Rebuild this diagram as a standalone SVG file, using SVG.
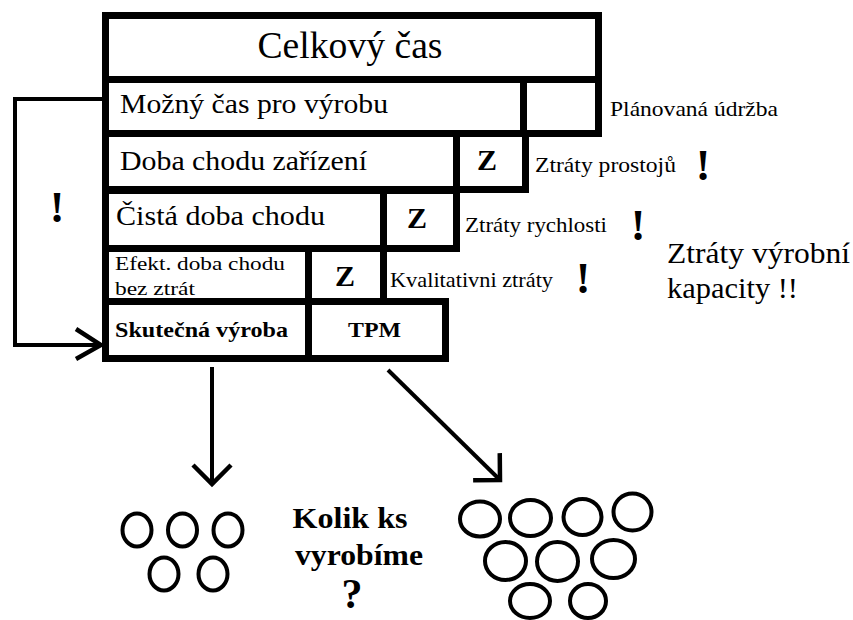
<svg xmlns="http://www.w3.org/2000/svg" width="853" height="620" viewBox="0 0 853 620">
  <style>
    .cell { fill: #fff; stroke: #000; stroke-width: 7; }
    .wire { fill: none; stroke: #000; stroke-width: 4; }
    .piece { fill: none; stroke: #000; stroke-width: 4; }
    text { font-family: "Liberation Serif", "Times New Roman", Times, Tinos, "Noto Serif", "DejaVu Serif", FreeSerif, serif; fill: #000; }
    .b { font-weight: bold; }
    .row { font-size: 27px; }
    .side { font-size: 22px; }
    .z { font-size: 30px; font-weight: bold; }
    .bang { font-size: 44px; font-weight: bold; }
  </style>
  <defs>
    <marker id="chev" viewBox="-24 -24 28 48" markerWidth="28" markerHeight="48" refX="0" refY="0" orient="auto" markerUnits="userSpaceOnUse">
      <path d="M -19 -19 L 0 0 L -19 19" fill="none" stroke="#000" stroke-width="4.5"/>
    </marker>
    <marker id="chevNarrow" viewBox="-28 -20 32 40" markerWidth="32" markerHeight="40" refX="0" refY="0" orient="auto" markerUnits="userSpaceOnUse">
      <path d="M -25 -16 L 0 0 L -25 14" fill="none" stroke="#000" stroke-width="4.5"/>
    </marker>
  </defs>

  <rect width="853" height="620" fill="#fff"/>

  <!-- connectors -->
  <g id="connectors">
    <polyline class="wire" points="102,99 15,99 15,345 101,345" marker-end="url(#chevNarrow)"/>
    <line class="wire" x1="212" y1="367" x2="212" y2="484" marker-end="url(#chev)"/>
    <line class="wire" x1="388" y1="370" x2="500" y2="480" marker-end="url(#chev)"/>
  </g>

  <!-- stacked time breakdown -->
  <g id="celkovy">
    <rect class="cell" x="105.5" y="15.5" width="493" height="64"/>
    <text x="350" y="58" font-size="38" text-anchor="middle" textLength="185" lengthAdjust="spacingAndGlyphs">Celkový čas</text>
  </g>
  <g id="mozny">
    <rect class="cell" x="105.5" y="79.5" width="419" height="54"/>
    <text class="row" x="120" y="113" textLength="268" lengthAdjust="spacingAndGlyphs">Možný čas pro výrobu</text>
  </g>
  <g id="udrzba-box">
    <rect class="cell" x="523.5" y="79.5" width="75" height="54"/>
  </g>
  <g id="doba">
    <rect class="cell" x="105.5" y="133.5" width="351" height="56"/>
    <text class="row" x="120" y="170" textLength="247" lengthAdjust="spacingAndGlyphs">Doba chodu zařízení</text>
  </g>
  <g id="z-prostoje">
    <rect class="cell" x="456.5" y="133.5" width="69" height="56"/>
    <text class="z" x="487" y="170" text-anchor="middle">Z</text>
  </g>
  <g id="cista">
    <rect class="cell" x="105.5" y="190.5" width="278" height="58"/>
    <text class="row" x="116" y="225" textLength="209" lengthAdjust="spacingAndGlyphs">Čistá doba chodu</text>
  </g>
  <g id="z-rychlost">
    <rect class="cell" x="383.5" y="190.5" width="73" height="58"/>
    <text class="z" x="417" y="228" text-anchor="middle">Z</text>
  </g>
  <g id="efekt">
    <rect class="cell" x="105.5" y="248.5" width="204" height="54"/>
    <text x="115" y="270" font-size="19" textLength="170" lengthAdjust="spacingAndGlyphs">Efekt.  doba chodu</text>
    <text x="115" y="295" font-size="19" textLength="80" lengthAdjust="spacingAndGlyphs">bez ztrát</text>
  </g>
  <g id="z-kvalita">
    <rect class="cell" x="308.5" y="248.5" width="75" height="54"/>
    <text class="z" x="345" y="286" text-anchor="middle">Z</text>
  </g>
  <g id="skutecna">
    <rect class="cell" x="105.5" y="301.5" width="204" height="57"/>
    <text class="b" x="115" y="337" font-size="22" textLength="173" lengthAdjust="spacingAndGlyphs">Skutečná výroba</text>
  </g>
  <g id="tpm">
    <rect class="cell" x="308.5" y="301.5" width="137" height="57"/>
    <text class="b" x="348" y="337" font-size="22" textLength="53" lengthAdjust="spacingAndGlyphs">TPM</text>
  </g>

  <!-- loss labels -->
  <g id="labels">
    <text class="side" x="610" y="116" textLength="168" lengthAdjust="spacingAndGlyphs">Plánovaná údržba</text>
    <text class="side" x="535" y="172" textLength="141" lengthAdjust="spacingAndGlyphs">Ztráty prostojů</text>
    <text class="side" x="465" y="232" textLength="142" lengthAdjust="spacingAndGlyphs">Ztráty rychlosti</text>
    <text class="side" x="390" y="287" textLength="163" lengthAdjust="spacingAndGlyphs">Kvalitativni ztráty</text>
    <text class="bang" x="703" y="180" text-anchor="middle">!</text>
    <text class="bang" x="638" y="240" text-anchor="middle">!</text>
    <text class="bang" x="583" y="293" text-anchor="middle">!</text>
    <text class="bang" x="57" y="222" text-anchor="middle">!</text>
    <text x="667" y="263" font-size="30" textLength="183" lengthAdjust="spacingAndGlyphs">Ztráty výrobní</text>
    <text x="667" y="298" font-size="30" textLength="131" lengthAdjust="spacingAndGlyphs">kapacity !!</text>
  </g>

  <!-- output pieces -->
  <g id="pieces-few">
    <ellipse class="piece" cx="137" cy="530" rx="14.5" ry="16.5"/>
    <ellipse class="piece" cx="182.5" cy="530" rx="14.5" ry="16.5"/>
    <ellipse class="piece" cx="228" cy="530" rx="14.5" ry="16.5"/>
    <ellipse class="piece" cx="164" cy="574" rx="14.5" ry="16.5"/>
    <ellipse class="piece" cx="213" cy="574" rx="14.5" ry="16.5"/>
  </g>
  <g id="question">
    <text class="b" x="350" y="528" font-size="30" text-anchor="middle" textLength="115" lengthAdjust="spacingAndGlyphs">Kolik ks</text>
    <text class="b" x="359" y="565" font-size="30" text-anchor="middle" textLength="128" lengthAdjust="spacingAndGlyphs">vyrobíme</text>
    <text class="b" x="352" y="608" font-size="42" text-anchor="middle">?</text>
  </g>
  <g id="pieces-many">
    <ellipse class="piece" cx="480" cy="519" rx="20" ry="17.5"/>
    <ellipse class="piece" cx="530.5" cy="518" rx="20.5" ry="18"/>
    <ellipse class="piece" cx="582.5" cy="517" rx="19" ry="18"/>
    <ellipse class="piece" cx="632.5" cy="512" rx="19" ry="18.5"/>
    <ellipse class="piece" cx="505.5" cy="561" rx="20.5" ry="19"/>
    <ellipse class="piece" cx="557.5" cy="561.5" rx="20.5" ry="19.5"/>
    <ellipse class="piece" cx="613.5" cy="559" rx="21.5" ry="19"/>
    <ellipse class="piece" cx="530" cy="601" rx="20" ry="17"/>
    <ellipse class="piece" cx="588" cy="601" rx="18" ry="17"/>
  </g>
</svg>
